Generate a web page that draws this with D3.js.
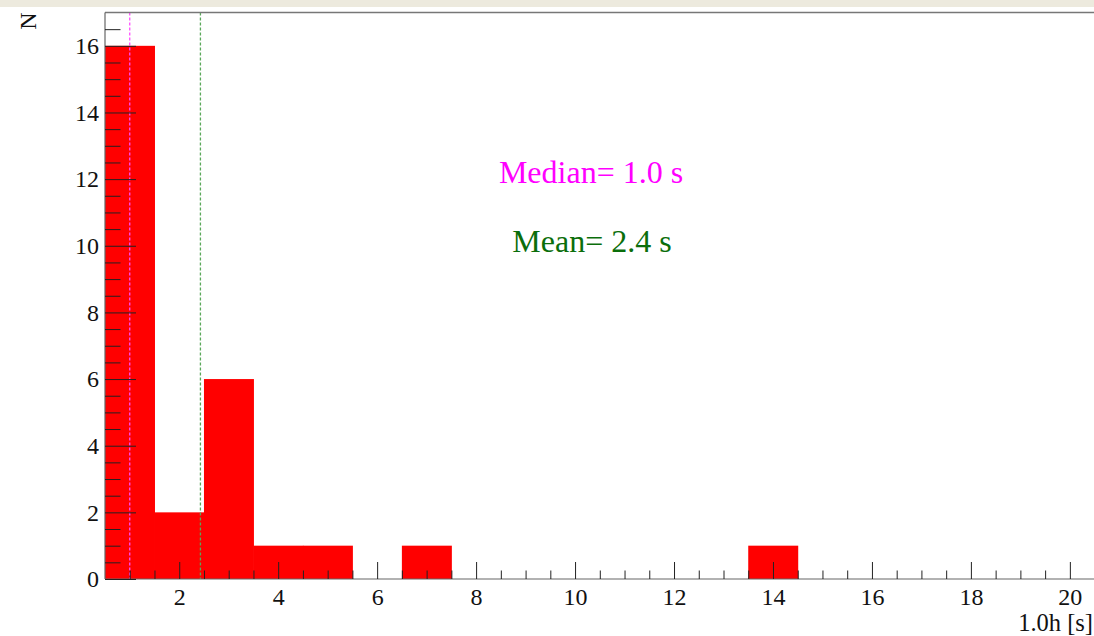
<!DOCTYPE html>
<html>
<head>
<meta charset="utf-8">
<script src="https://cdn.jsdelivr.net/npm/d3@7"></script>
<style>
  html, body { margin: 0; padding: 0; background: #fff; }
  svg { display: block; }
</style>
</head>
<body>
<svg id="chart" width="1094" height="636"></svg>
<script>
// Histogram of durations: unit-width bins centred on integers
const binCenters = [1, 2, 3, 4, 5, 6, 7, 8, 9, 10, 11, 12, 13, 14, 15, 16, 17, 18, 19, 20];
const binCounts  = [16, 2, 6, 1, 1, 0, 1, 0, 0, 0, 0, 0, 0, 1, 0, 0, 0, 0, 0, 0];
const xTicks = [2, 4, 6, 8, 10, 12, 14, 16, 18, 20];
const yTicks = [0, 2, 4, 6, 8, 10, 12, 14, 16];
const xTitle = "1.0h [s]";
const yTitle = "N";
const binWidth = 1;

// Summary statistics from the binned entries
const total = d3.sum(binCounts);
const meanVal = d3.sum(binCenters, (c, i) => c * binCounts[i]) / total;
const cumulative = d3.cumsum(binCounts);
const medianVal = binCenters[cumulative.findIndex(v => v >= total / 2)];

const W = 1094, H = 636;
const frame = { left: 105, right: 1094.6, top: 12.5, bottom: 579 };
const SERIF = '"Liberation Serif", "Times New Roman", serif';

const svg = d3.select("#chart");

// light band along the top edge of the canvas
svg.append("rect").attr("x", 0).attr("y", 0).attr("width", W).attr("height", 7)
  .attr("fill", "#edeade");

const x = d3.scaleLinear().domain([0.5, 20.5]).range([frame.left, frame.right]);
const y = d3.scaleLinear().domain([0, 17]).range([frame.bottom, frame.top]);

// bars
svg.append("g").selectAll("rect")
  .data(binCenters.map((c, i) => ({ c, n: binCounts[i] })).filter(d => d.n > 0))
  .join("rect")
  .attr("x", d => x(d.c - binWidth / 2))
  .attr("width", d => x(d.c + binWidth / 2) - x(d.c - binWidth / 2) + 0.5)
  .attr("y", d => y(d.n))
  .attr("height", d => y(0) - y(d.n))
  .attr("fill", "#ff0000");

// statistic markers
const statLines = [
  { v: medianVal, color: "#ff4dff" },
  { v: meanVal, color: "#5aa85a" }
];
svg.append("g").selectAll("line").data(statLines).join("line")
  .attr("x1", d => x(d.v)).attr("x2", d => x(d.v))
  .attr("y1", frame.top).attr("y2", frame.bottom)
  .attr("stroke", d => d.color)
  .attr("stroke-width", 1.3)
  .attr("stroke-dasharray", "3,2");

// frame lines
svg.append("line").attr("x1", frame.left).attr("x2", W)
  .attr("y1", frame.top).attr("y2", frame.top)
  .attr("stroke", "#777").attr("stroke-width", 1.5);
svg.append("line").attr("x1", frame.left).attr("x2", frame.left)
  .attr("y1", frame.top).attr("y2", frame.bottom)
  .attr("stroke", "#666").attr("stroke-width", 1.2);
svg.append("line").attr("x1", frame.left).attr("x2", W)
  .attr("y1", frame.bottom).attr("y2", frame.bottom)
  .attr("stroke", "#666").attr("stroke-width", 1.2);

function styleAxis(g) {
  g.select(".domain").remove();
  g.attr("font-family", null).attr("font-size", null);
  g.selectAll(".tick line").attr("stroke", "#222").attr("stroke-width", 1);
  g.selectAll(".tick text")
    .style("font-family", SERIF)
    .style("font-size", "24px")
    .attr("fill", "#111");
}

// x axis: ticks point up into the frame
const xMinor = d3.range(1, 20.5 + 1e-9, 0.5).filter(v => !xTicks.includes(v));
const xAxisMajor = d3.axisBottom(x).tickValues(xTicks).tickSizeInner(-17).tickSizeOuter(0)
  .tickPadding(9).tickFormat(d3.format("d"));
const xAxisMinor = d3.axisBottom(x).tickValues(xMinor).tickSizeInner(-8.5).tickSizeOuter(0)
  .tickFormat("");
const gxMinor = svg.append("g").attr("transform", `translate(0,${frame.bottom})`).call(xAxisMinor);
const gxMajor = svg.append("g").attr("transform", `translate(0,${frame.bottom})`).call(xAxisMajor);
styleAxis(gxMinor);
styleAxis(gxMajor);

// y axis: ticks point right into the frame
const yMinor = d3.range(0.5, 17, 0.5).filter(v => !yTicks.includes(v));
const yAxisMajor = d3.axisLeft(y).tickValues(yTicks).tickSizeInner(-31).tickSizeOuter(0)
  .tickPadding(6).tickFormat(d3.format("d"));
const yAxisMinor = d3.axisLeft(y).tickValues(yMinor).tickSizeInner(-15.5).tickSizeOuter(0)
  .tickFormat("");
const gyMinor = svg.append("g").attr("transform", `translate(${frame.left},0)`).call(yAxisMinor);
const gyMajor = svg.append("g").attr("transform", `translate(${frame.left},0)`).call(yAxisMajor);
styleAxis(gyMinor);
styleAxis(gyMajor);

// axis titles
svg.append("text")
  .attr("transform", "translate(36,21) rotate(-90)")
  .attr("text-anchor", "middle")
  .style("font-family", SERIF).style("font-size", "24px")
  .attr("fill", "#111")
  .text(yTitle);
svg.append("text")
  .attr("x", 1093).attr("y", 631)
  .attr("text-anchor", "end")
  .style("font-family", SERIF).style("font-size", "24.5px")
  .attr("fill", "#111")
  .text(xTitle);

// statistic annotations
svg.append("text")
  .attr("x", 591).attr("y", 183)
  .attr("text-anchor", "middle")
  .style("font-family", SERIF).style("font-size", "32px")
  .attr("fill", "#ff00ff")
  .text(`Median= ${medianVal.toFixed(1)} s`);
svg.append("text")
  .attr("x", 592).attr("y", 252)
  .attr("text-anchor", "middle")
  .style("font-family", SERIF).style("font-size", "32px")
  .attr("fill", "#0b6e0b")
  .text(`Mean= ${meanVal.toFixed(1)} s`);
</script>
</body>
</html>
